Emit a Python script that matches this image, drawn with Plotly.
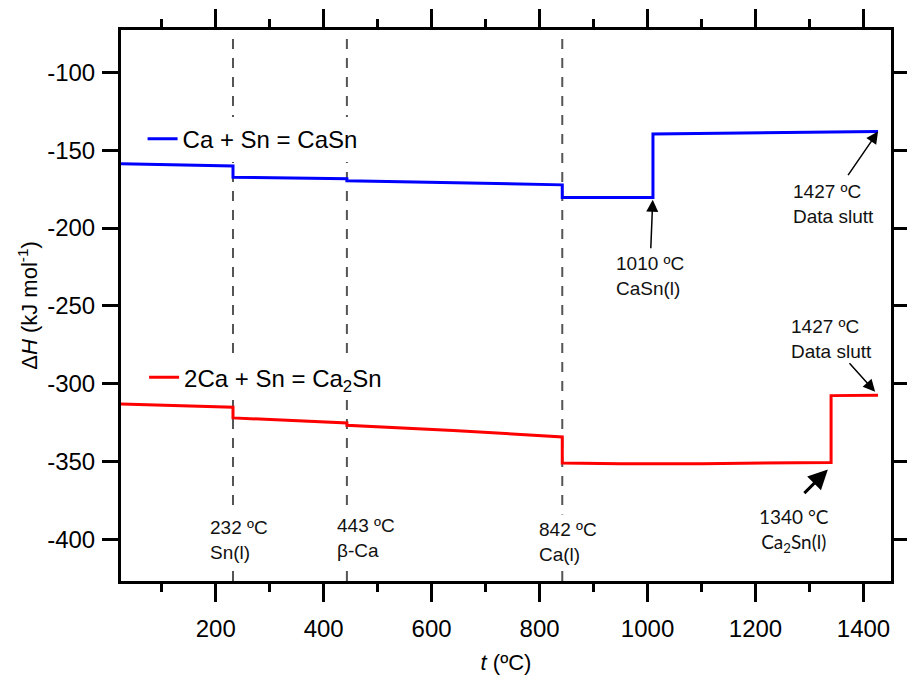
import plotly.graph_objects as go

# Reaction enthalpy versus temperature
t_casn = [24.5, 232, 232, 443, 443, 842, 842, 1010, 1010, 1427]
dh_casn = [-158.8, -160.2, -167.4, -168.4, -169.7, -172.3, -180.4, -180.4, -139.6, -138.1]

t_ca2sn = [24.5, 232, 232, 443, 443, 640, 842, 842, 950, 1100, 1340, 1340, 1427]
dh_ca2sn = [-313.0, -315.1, -321.9, -325.2, -326.7, -330.0, -334.1, -350.8, -351.3, -351.3,
            -350.5, -307.6, -307.4]

# Phase transitions marked with dashed lines
trans_t = [232, 443, 842]
trans_label = ["232 ºC<br>Sn(l)", "443 ºC<br>β-Ca", "842 ºC<br>Ca(l)"]
trans_label_y = [-400.0, -398.7, -401.6]
trans_label_shift = [-28, -15, -28]

x_ticks = [200, 400, 600, 800, 1000, 1200, 1400]
y_ticks = [-100, -150, -200, -250, -300, -350, -400]
y_ticktext = ["-100", "-150", "-200", "-250", "-300", "-350", "-400"]

x_range = [24.5, 1451]
y_range = [-426.6, -72.9]

FONT = "Liberation Sans, Arial, sans-serif"

fig = go.Figure()
fig.add_trace(go.Scatter(x=t_casn, y=dh_casn, mode="lines", name="Ca + Sn = CaSn",
                         line=dict(color="#0000FF", width=3), legend="legend"))
fig.add_trace(go.Scatter(x=t_ca2sn, y=dh_ca2sn, mode="lines", name="2Ca + Sn = Ca<sub>2</sub>Sn",
                         line=dict(color="#FF0000", width=3), legend="legend2"))

for t in trans_t:
    fig.add_shape(type="line", xref="x", yref="paper", x0=t, x1=t, y0=0, y1=1,
                  line=dict(color="#555555", width=2, dash="10px,9px"), layer="below")

ann = []
for t, lab, ly, sh in zip(trans_t, trans_label, trans_label_y, trans_label_shift):
    ann.append(dict(x=t, y=ly, xref="x", yref="y", text=lab, showarrow=False,
                    xanchor="left", yanchor="middle", xshift=sh, align="left",
                    bgcolor="white", borderpad=4,
                    font=dict(family=FONT, size=19, color="#111111")))

# Point labels
ann += [
    dict(x=1005, y=-231, text="1010 ºC<br>CaSn(l)", showarrow=False, xanchor="center",
         yanchor="middle", align="left", font=dict(family=FONT, size=19, color="#111111")),
    dict(x=1265, y=-184.5, text="1427 ºC<br>Data slutt", showarrow=False, xanchor="left",
         yanchor="middle", align="left", font=dict(family=FONT, size=19, color="#111111")),
    dict(x=1262, y=-271.4, text="1427 ºC<br>Data slutt", showarrow=False, xanchor="left",
         yanchor="middle", align="left", font=dict(family=FONT, size=19, color="#111111")),
    dict(x=1271, y=-393.9, text="1340 °C<br>Ca<sub>2</sub>Sn(l)", showarrow=False,
         xanchor="center", yanchor="middle", align="center",
         font=dict(family="Lato, sans-serif", size=19, color="#111111")),
]

# Arrows
arrow_common = dict(xref="x", yref="y", text="", showarrow=True, arrowcolor="black",
                    standoff=0)
ann += [
    dict(x=1009.6, y=-181.9, ax=-2, ay=50, arrowhead=2, arrowwidth=1.5, arrowsize=1.6,
         **arrow_common),
    dict(x=1427, y=-138.1, ax=-31, ay=45, arrowhead=2, arrowwidth=1.5, arrowsize=1.6,
         **arrow_common),
    dict(x=1421.6, y=-305.1, ax=-27, ay=-30, arrowhead=2, arrowwidth=1.5, arrowsize=1.6,
         **arrow_common),
    dict(x=1334, y=-355.1, ax=-25, ay=25, arrowhead=2, arrowwidth=3, arrowsize=1.3,
         **arrow_common),
]

axis_common = dict(showline=True, linewidth=3, linecolor="black", mirror="ticks",
                   ticks="outside", tickwidth=2.5, tickcolor="black", showgrid=False,
                   zeroline=False, automargin=False,
                   tickfont=dict(family=FONT, size=24, color="black"))

legend_common = dict(xanchor="left", yanchor="middle", bgcolor="white",
                     font=dict(family=FONT, size=24, color="black"))

fig.update_layout(
    width=907, height=679,
    margin=dict(l=121, r=16, t=30, b=98),
    plot_bgcolor="white", paper_bgcolor="white",
    xaxis=dict(range=x_range, tickvals=x_ticks, ticklen=18, ticklabelstandoff=6,
               minor=dict(dtick=100, tick0=0, ticks="outside", ticklen=8, tickwidth=2.5,
                          tickcolor="black"),
               title=dict(text="<i>t</i> (ºC)", font=dict(family=FONT, size=22, color="black"),
                          standoff=14),
               **axis_common),
    yaxis=dict(range=y_range, tickvals=y_ticks, ticktext=y_ticktext, ticklen=16,
               ticklabelstandoff=2,
               title=dict(text="Δ<i>H</i> (kJ mol<sup>-1</sup>)",
                          font=dict(family=FONT, size=22, color="black"), standoff=4),
               **axis_common),
    legend=dict(x=0.028, y=0.802, **legend_common),
    legend2=dict(x=0.030, y=0.369, **legend_common),
    annotations=ann,
    showlegend=True,
)

fig.write_html("out.html")
